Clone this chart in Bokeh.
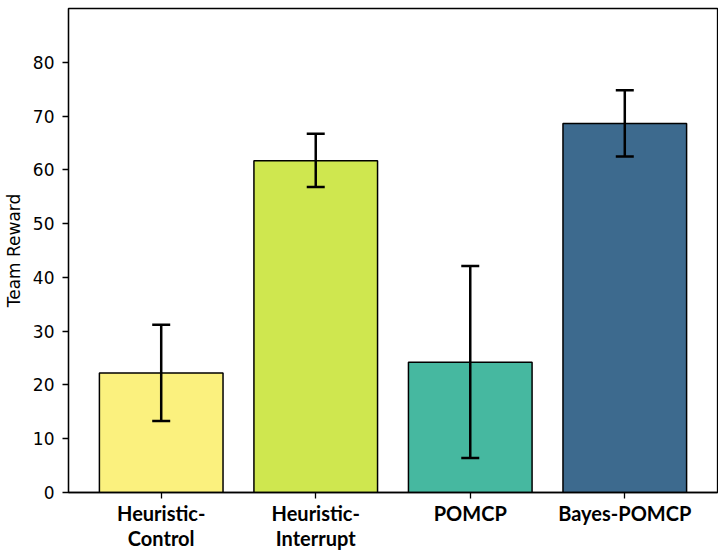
from bokeh.plotting import figure
from bokeh.models import ColumnDataSource, Range1d, FixedTicker, Whisker, TeeHead
from bokeh.embed import file_html
from bokeh.resources import INLINE

categories = ["Heuristic-\nControl", "Heuristic-\nInterrupt", "POMCP", "Bayes-POMCP"]
means = [22.2, 61.7, 24.2, 68.6]
lower = [13.3, 56.8, 6.4, 62.5]
upper = [31.2, 66.7, 42.1, 74.8]
colors = ["#fbf17e", "#cfe74f", "#46b8a0", "#3d6a8e"]
y_ticks = [0, 10, 20, 30, 40, 50, 60, 70, 80]

xs = list(range(len(categories)))
src = ColumnDataSource(dict(x=xs, top=means, lo=lower, hi=upper, color=colors))

p = figure(width=718, height=552, output_backend="svg", toolbar_location=None,
           x_range=Range1d(-0.6, 3.6), y_range=Range1d(0, 90),
           min_border_left=67, min_border_right=1, min_border_top=8, min_border_bottom=59)

p.vbar(x="x", top="top", width=0.8, bottom=0, source=src, fill_color="color",
       line_color="black", line_width=1.5)

w = Whisker(source=src, base="x", lower="lo", upper="hi", line_color="black", line_width=2.5,
            upper_head=TeeHead(size=18, line_color="black", line_width=2.5),
            lower_head=TeeHead(size=18, line_color="black", line_width=2.5),
            level="overlay")
p.add_layout(w)

p.grid.visible = False
p.outline_line_color = "black"
p.outline_line_width = 1.3

p.xaxis.ticker = FixedTicker(ticks=xs)
p.xaxis.major_label_overrides = {i: c for i, c in enumerate(categories)}
p.xaxis.major_label_text_font = "Lato"
p.xaxis.major_label_text_font_style = "bold"
p.xaxis.major_label_text_font_size = "20px"
p.xaxis.major_label_text_color = "black"
p.xaxis.major_label_text_line_height = 1.05
p.xaxis.minor_tick_line_color = None
p.xaxis.major_tick_out = 6
p.xaxis.major_tick_in = 0
p.xaxis.major_label_standoff = 2

p.yaxis.ticker = FixedTicker(ticks=y_ticks)
p.yaxis.minor_tick_line_color = None
p.yaxis.major_label_text_font = "DejaVu Sans"
p.yaxis.major_label_text_font_size = "17px"
p.yaxis.major_label_text_color = "black"
p.yaxis.major_tick_out = 6
p.yaxis.major_tick_in = 0
p.yaxis.major_label_standoff = 8
p.yaxis.axis_label = "Team Reward"
p.yaxis.axis_label_text_font = "DejaVu Sans"
p.yaxis.axis_label_text_font_style = "normal"
p.yaxis.axis_label_text_font_size = "17px"
p.yaxis.axis_label_text_color = "black"
p.yaxis.axis_label_standoff = 6

for ax in (p.xaxis, p.yaxis):
    ax.axis_line_color = "black"
    ax.axis_line_width = 1.3
    ax.major_tick_line_color = "black"
    ax.major_tick_line_width = 1.3

open("out.html", "w").write(file_html(p, INLINE))
